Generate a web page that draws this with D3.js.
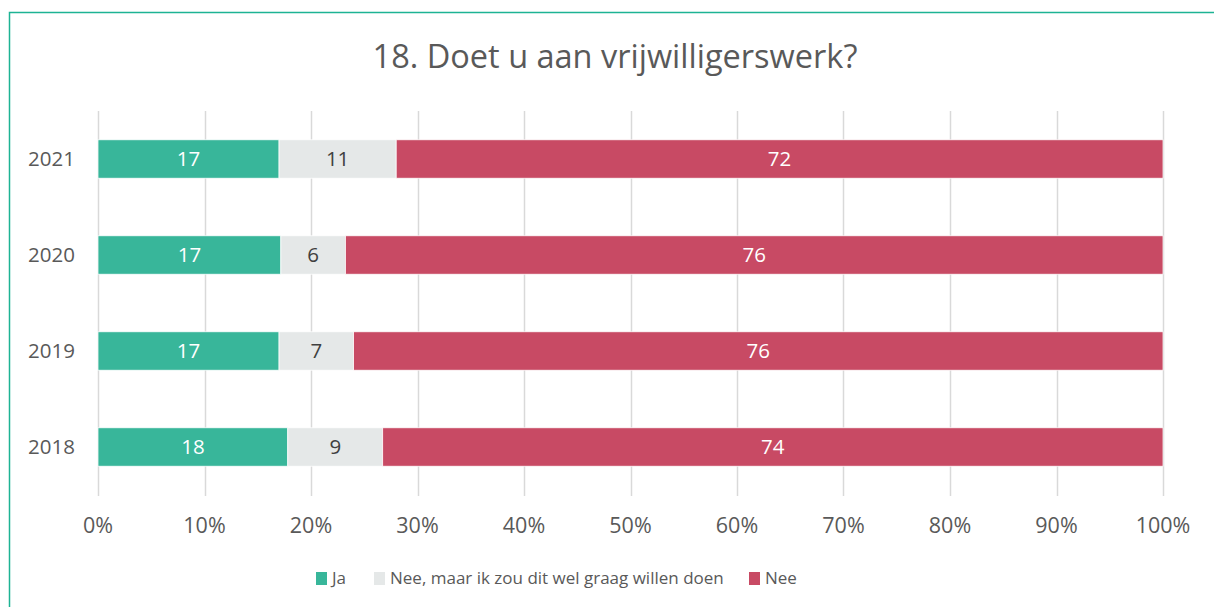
<!DOCTYPE html>
<meta charset="utf-8">
<script src="https://d3js.org/d3.v7.min.js"></script>
<style>
body { margin: 0; background: #fff; }
svg { display: block; font-family: "Open Sans", "Noto Sans", sans-serif; }
</style>
<body>
<svg id="chart" width="1214" height="607"></svg>
<script>
var years = ["2021", "2020", "2019", "2018"];
var series = ["Ja", "Nee, maar ik zou dit wel graag willen doen", "Nee"];
var ja = [17, 17, 17, 18];
var neeMaar = [11, 6, 7, 9];
var nee = [72, 76, 76, 74];
var ticks = [0, 10, 20, 30, 40, 50, 60, 70, 80, 90, 100];
var colors = ["#38b69a", "#e5e8e8", "#c84a64"];
var labelColors = ["#ffffff", "#404040", "#ffffff"];

var svg = d3.select("#chart");

// frame
svg.append("path")
  .attr("d", "M9.5,607 V12.5 H1214")
  .attr("fill", "none")
  .attr("stroke", "#1db394")
  .attr("stroke-width", 1.5);

svg.append("text")
  .attr("x", 615).attr("y", 68)
  .attr("text-anchor", "middle")
  .attr("font-size", 32.5)
  .attr("fill", "#595959")
  .text("18. Doet u aan vrijwilligerswerk?");

var x = d3.scaleLinear().domain([0, 100]).range([98, 1163]);
var y = d3.scaleBand().domain(years).range([111, 495]).paddingInner(0.6).paddingOuter(0.3);

// grid
svg.append("g").selectAll("line")
  .data(ticks)
  .enter().append("line")
    .attr("x1", function(d) { return Math.round(x(d)) + 0.5; })
    .attr("x2", function(d) { return Math.round(x(d)) + 0.5; })
    .attr("y1", 111).attr("y2", 496)
    .attr("stroke", "#d9d9d9")
    .attr("stroke-width", 1.5);

// stacked rows, normalised to 100%
var rows = years.map(function(yr, i) {
  var vals = [ja[i], neeMaar[i], nee[i]];
  var total = d3.sum(vals);
  var acc = 0;
  return vals.map(function(v, k) {
    var seg = { year: yr, k: k, v: v, x0: acc / total * 100, x1: (acc + v) / total * 100 };
    acc += v;
    return seg;
  });
});
var segs = [].concat.apply([], rows);

svg.append("g").selectAll("rect")
  .data(segs)
  .enter().append("rect")
    .attr("x", function(d) { return x(d.x0); })
    .attr("width", function(d) { return x(d.x1) - x(d.x0); })
    .attr("y", function(d) { return y(d.year); })
    .attr("height", y.bandwidth())
    .attr("fill", function(d) { return colors[d.k]; })
    .attr("stroke", "#fff")
    .attr("stroke-width", 0.75);

svg.append("g").selectAll("text")
  .data(segs)
  .enter().append("text")
    .attr("x", function(d) { return (x(d.x0) + x(d.x1)) / 2; })
    .attr("y", function(d) { return y(d.year) + y.bandwidth() / 2; })
    .attr("dy", "0.35em")
    .attr("text-anchor", "middle")
    .attr("font-size", 20.5)
    .attr("fill", function(d) { return labelColors[d.k]; })
    .text(function(d) { return d.v; });

// category labels
svg.append("g").selectAll("text")
  .data(years)
  .enter().append("text")
    .attr("x", 75)
    .attr("y", function(d) { return y(d) + y.bandwidth() / 2; })
    .attr("dy", "0.35em")
    .attr("text-anchor", "end")
    .attr("font-size", 20.5)
    .attr("fill", "#595959")
    .text(function(d) { return d; });

// x tick labels
svg.append("g").selectAll("text")
  .data(ticks)
  .enter().append("text")
    .attr("x", function(d) { return x(d); })
    .attr("y", 533)
    .attr("text-anchor", "middle")
    .attr("font-size", 21.5)
    .attr("fill", "#595959")
    .text(function(d) { return d + "%"; });

// legend
var legX = [316, 374, 749];
var leg = svg.append("g").selectAll("g")
  .data(series)
  .enter().append("g")
    .attr("transform", function(d, i) { return "translate(" + legX[i] + ",572)"; });
leg.append("rect")
  .attr("width", 11).attr("height", 13)
  .attr("fill", function(d, i) { return colors[i]; });
leg.append("text")
  .attr("x", 16).attr("y", 6.5)
  .attr("dy", "0.35em")
  .attr("font-size", 17)
  .attr("fill", "#595959")
  .text(function(d) { return d; });
</script>
</body>
